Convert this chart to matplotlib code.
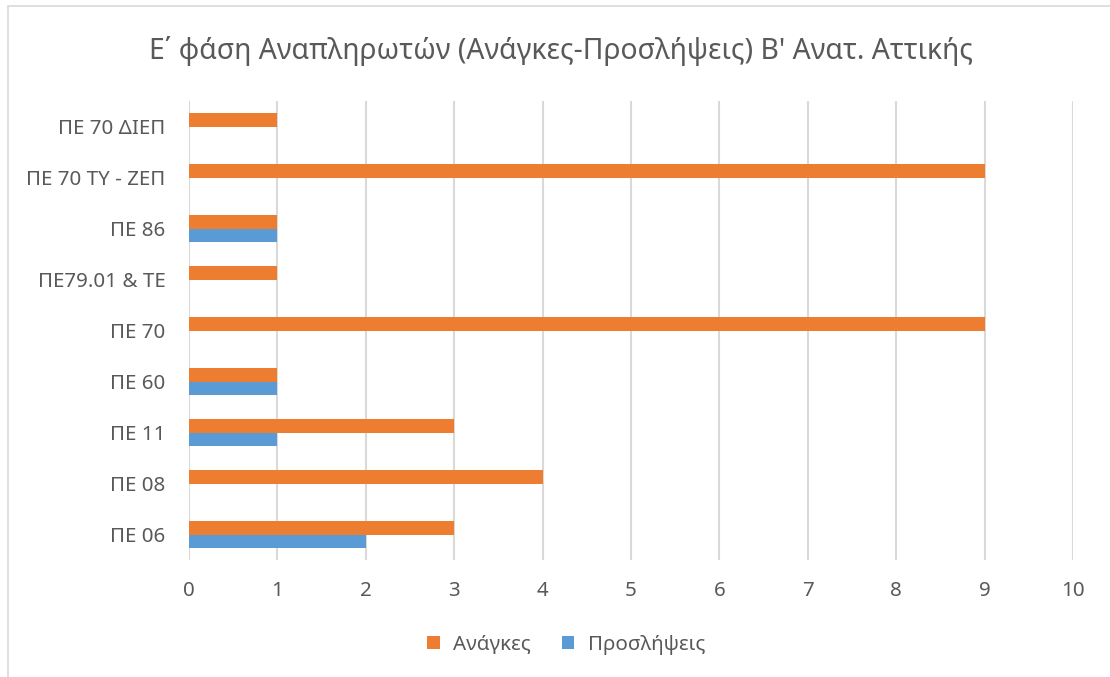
"""Horizontal clustered bars: needs vs hires per specialty (phase E substitutes)."""

import matplotlib

matplotlib.use("Agg")
import matplotlib.pyplot as plt
import numpy as np
from matplotlib.patches import Rectangle

plt.rcParams["font.family"] = ["Noto Sans", "DejaVu Sans"]

TITLE = "Ε΄ φάση Αναπληρωτών (Ανάγκες-Προσλήψεις) Β' Ανατ. Αττικής"

categories = [
    "ΠΕ 06",
    "ΠΕ 08",
    "ΠΕ 11",
    "ΠΕ 60",
    "ΠΕ 70",
    "ΠΕ79.01 & ΤΕ",
    "ΠΕ 86",
    "ΠΕ 70 ΤΥ - ΖΕΠ",
    "ΠΕ 70 ΔΙΕΠ",
]
needs = [3, 4, 3, 1, 9, 1, 1, 9, 1]
hires = [2, 0, 1, 1, 0, 0, 1, 0, 0]
series_names = ["Ανάγκες", "Προσλήψεις"]

ORANGE = "#ED7D31"
BLUE = "#5B9BD5"
GRID = "#D9D9D9"
TEXT = "#595959"

W, H = 1110, 677
fig = plt.figure(figsize=(W / 100, H / 100), dpi=100)
fig.patch.set_facecolor("white")

# chart-area border (only top and left edges visible in the crop)
fig.add_artist(
    Rectangle(
        (8 / W, -0.1), 1.2, 0.1 + (H - 6) / H,
        transform=fig.transFigure, fill=False, edgecolor=GRID, linewidth=1.2,
    )
)

ax = fig.add_axes([189 / W, (H - 560) / H, 884 / W, 459 / H])

y = np.arange(len(categories))
bar_h = 0.265
ax.barh(y + bar_h / 2, needs, height=bar_h, color=ORANGE, label=series_names[0], zorder=3)
ax.barh(y - bar_h / 2, hires, height=bar_h, color=BLUE, label=series_names[1], zorder=3)

ax.set_xlim(0, 10)
ax.set_ylim(-0.5, len(categories) - 0.5)
ax.set_xticks(range(0, 11))
ax.set_yticks(y)
ax.set_yticklabels(categories)
ax.tick_params(axis="both", length=0, labelsize=14.8, labelcolor=TEXT)
ax.tick_params(axis="y", pad=17)
ax.tick_params(axis="x", pad=15)
ax.grid(True, axis="x", color=GRID, linewidth=1.5, zorder=0)
ax.set_axisbelow(True)
for side in ["top", "right", "bottom", "left"]:
    ax.spines[side].set_visible(False)

fig.text(0.505, (H - 51) / H, TITLE, ha="center", va="center", fontsize=20.4, color=TEXT)

fig.legend(
    loc="center", bbox_to_anchor=(566 / W, (H - 645) / H), ncol=2, frameon=False,
    fontsize=14.8, labelcolor=TEXT, handlelength=0.62, handleheight=0.62,
    handletextpad=0.65, columnspacing=1.5,
)

fig.savefig("out.png", dpi=100, facecolor="white")
